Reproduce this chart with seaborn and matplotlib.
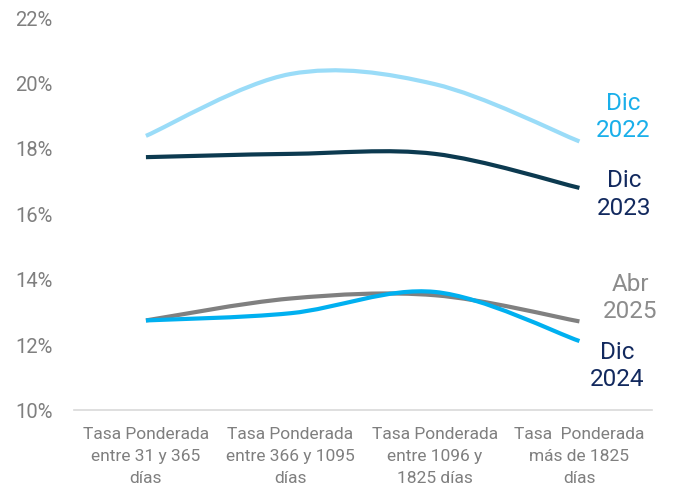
import numpy as np
import matplotlib
matplotlib.use("Agg")
import matplotlib.pyplot as plt
from matplotlib.path import Path
from matplotlib.patches import PathPatch
import seaborn as sns

# data
categories = [
    "Tasa Ponderada\nentre 31 y 365\ndías",
    "Tasa Ponderada\nentre 366 y 1095\ndías",
    "Tasa Ponderada\nentre 1096 y\n1825 días",
    "Tasa  Ponderada\nmás de 1825\ndías",
]
dic_2022 = [18.37, 20.26, 19.95, 18.2]
dic_2023 = [17.72, 17.82, 17.82, 16.78]
dic_2024 = [12.73, 12.95, 13.6, 12.1]
abr_2025 = [12.73, 13.4, 13.5, 12.7]

series = [
    ("Dic\n2022", dic_2022, "#9ADCF8", "#1AAFEA", (3.30, 18.98)),
    ("Dic\n2023", dic_2023, "#0C3A50", "#12295E", (3.31, 16.61)),
    ("Abr\n2025", abr_2025, "#808080", "#8C8C8C", (3.35, 13.45)),
    ("Dic\n2024", dic_2024, "#00B0F0", "#12295E", (3.26, 11.37)),
]

sns.set_theme(style="white")
plt.rcParams["font.family"] = ["Roboto", "DejaVu Sans"]

fig = plt.figure(figsize=(6.76, 4.89), dpi=100)
ax = fig.add_axes([0.109, 0.16, 0.855, 0.803])


def smooth_path(xs, ys, t=0.5):
    # Catmull-Rom style cubic bezier through the points
    pts = np.column_stack([xs, ys]).astype(float)
    verts = [pts[0]]
    codes = [Path.MOVETO]
    n = len(pts)
    for i in range(n - 1):
        p0 = pts[i - 1] if i > 0 else pts[i]
        p1 = pts[i]
        p2 = pts[i + 1]
        p3 = pts[i + 2] if i + 2 < n else pts[i + 1]
        c1 = p1 + (p2 - p0) * t / 3
        c2 = p2 - (p3 - p1) * t / 3
        verts += [c1, c2, p2]
        codes += [Path.CURVE4] * 3
    return Path(verts, codes)


x = np.arange(len(categories))
for name, vals, lc, tc, pos in series:
    ax.add_patch(PathPatch(smooth_path(x, vals), facecolor="none",
                           edgecolor=lc, lw=3, capstyle="butt"))
    ax.text(pos[0], pos[1], name, color=tc, fontsize=17.5, ha="center",
            va="center", linespacing=1.25)

ax.set_xlim(-0.5, 3.5)
ax.set_ylim(10, 22)
ax.set_yticks(range(10, 23, 2))
ax.set_yticklabels([f"{v}%" for v in range(10, 23, 2)])
ax.set_xticks(x)
ax.set_xticklabels(categories, linespacing=1.55)
ax.tick_params(axis="y", length=0, pad=15, labelsize=14.5, labelcolor="#7F7F7F")
ax.tick_params(axis="x", length=0, pad=12, labelsize=12.5, labelcolor="#7F7F7F")

for s in ["top", "right", "left"]:
    ax.spines[s].set_visible(False)
ax.spines["bottom"].set_color("#D9D9D9")
ax.spines["bottom"].set_linewidth(1.2)

fig.savefig("out.png", dpi=100)
